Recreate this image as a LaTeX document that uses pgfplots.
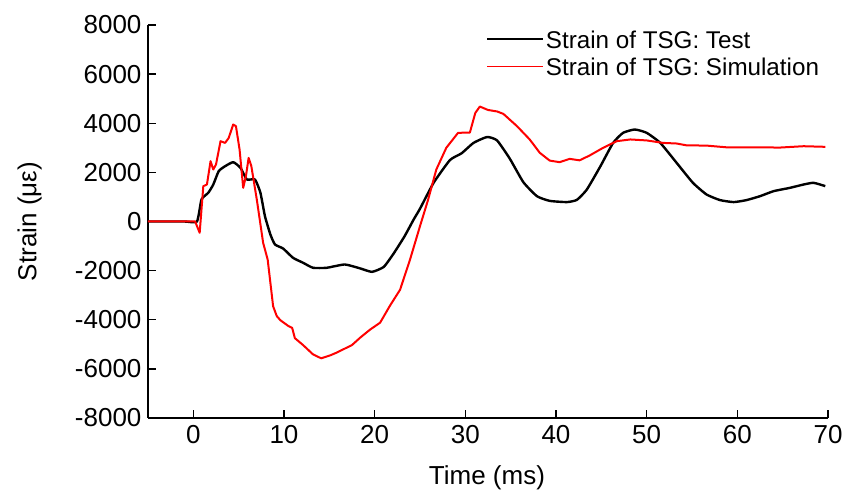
\documentclass[border=0pt]{standalone}
\usepackage{pgfplots}
\pgfplotsset{compat=1.18}
\usepackage{fontspec}
\setmainfont{Liberation Sans}
\newcommand\lstrut{\rule[-3pt]{0pt}{23pt}}

% Strain history of the TSG gauge: measured vs. simulated
\pgfplotstableread{
t     s
-5.0  0
-1.0  0
0.4   0
0.9   895
1.65  1170
2.2   1505
2.8   2050
3.5   2250
4.4   2415
5.2   2185
5.9   1710
6.8   1710
7.4   1170
7.9   215
8.5   -530
9.0   -935
9.9   -1100
11.0  -1480
12.1  -1680
13.2  -1885
14.7  -1885
16.7  -1750
18.4  -1910
19.7  -2050
21.0  -1850
22.1  -1300
23.3  -600
24.3  80
25.0  520
26.5  1575
28.3  2500
29.6  2780
30.9  3200
32.4  3440
33.5  3300
34.9  2560
36.4  1600
37.9  1030
39.3  840
41.2  790
42.3  880
43.4  1300
44.9  2250
46.3  3200
47.4  3610
48.7  3745
50.0  3610
51.5  3200
53.3  2390
55.1  1575
56.6  1100
58.1  870
59.6  790
61.0  870
62.5  1030
64.0  1235
65.8  1370
67.3  1505
68.4  1575
69.7  1440
}\testdata

\pgfplotstableread{
t     s
-5.0  0
0.2   0
0.7   -460
1.1   1437
1.5   1505
1.9   2455
2.2   2116
2.5   2320
3.0   3270
3.5   3200
3.9   3400
4.4   3950
4.7   3880
5.1   2930
5.5   1370
5.8   1845
6.1   2590
6.4   2250
7.0   895
7.7   -870
8.2   -1550
8.8   -3450
9.2   -3850
9.6   -4020
10.5  -4260
10.9  -4330
11.2  -4750
12.1  -5030
13.2  -5410
14.1  -5570
15.1  -5450
15.8  -5340
17.5  -5030
18.4  -4730
19.5  -4400
20.6  -4120
21.7  -3420
22.8  -2780
23.9  -1550
25.0  -190
25.9  895
26.8  2116
27.9  3000
29.2  3610
30.5  3620
31.1  4420
31.6  4680
32.5  4540
33.5  4480
34.2  4380
35.7  3880
37.1  3340
38.2  2800
39.3  2480
40.4  2415
41.5  2550
42.6  2490
43.7  2685
45.2  3000
46.7  3270
48.2  3340
50.0  3300
51.8  3200
53.3  3175
54.4  3100
56.6  3090
58.8  3020
61.8  3020
64.7  3010
67.3  3065
69.7  3040
}\simdata

\begin{document}
\begin{tikzpicture}
\begin{axis}[
  name=ax,
  scale only axis,
  width=680pt, height=393pt,
  xmin=-5, xmax=70,
  ymin=-8000, ymax=8000,
  xtick={0,10,...,70},
  ytick={-8000,-6000,...,8000},
  axis x line=bottom,
  axis y line=left,
  axis line style={-, line width=1.4pt},
  tick align=inside,
  major tick length=8pt,
  tick style={line width=1.4pt, black},
  scaled y ticks=false,
  /pgf/number format/.cd, assume math mode=true, 1000 sep={}, /pgfplots/.cd,
  ticklabel style={font=\fontsize{26}{30}\selectfont},
  xticklabel style={yshift=-4pt},
  yticklabel style={xshift=-3pt},
  xlabel={Time (ms)},
  ylabel={Strain (με)},
  label style={font=\fontsize{26}{30}\selectfont},
  xlabel style={at={(axis description cs:0.4985,-0.153)}, anchor=center},
  ylabel style={at={(axis description cs:-0.174,0.5)}, anchor=center},
  legend style={
    at={(0.497,1.0)}, anchor=north west,
    draw=none, fill=none,
    font=\fontsize{24.2}{28}\selectfont,
    inner sep=0pt,
    nodes={inner ysep=3pt},
  },
  legend cell align=left,
  legend image code/.code={\draw[#1, line width=1.8pt] (0pt,0pt) -- (56pt,0pt);},
]
\addplot[black, line width=2.4pt, line join=round, smooth, tension=0.3] table[x=t, y=s] {\testdata};
\addlegendentry{\lstrut Strain of TSG: Test}
\addplot[red, line width=2pt, line join=round] table[x=t, y=s] {\simdata};
\addlegendentry{\lstrut Strain of TSG: Simulation}
\end{axis}
% page margins around the plot area
\pgfresetboundingbox
\path ([xshift=-148pt,yshift=-85pt]ax.south west) rectangle ([xshift=17pt,yshift=25pt]ax.north east);
\end{tikzpicture}
\end{document}
